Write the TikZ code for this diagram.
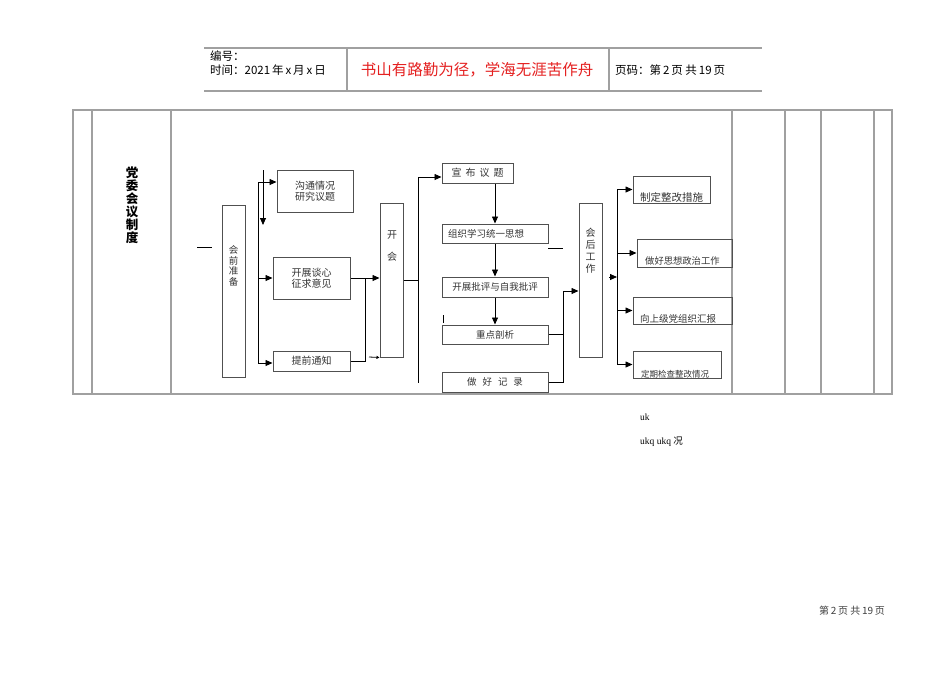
\documentclass[tikz,border=0pt]{standalone}
\usepackage{fontspec}
\setmainfont{Liberation Serif}
\newfontfamily\cjk{Noto Sans CJK SC}
\usetikzlibrary{arrows.meta}
\definecolor{rulegray}{RGB}{160,160,160}
\definecolor{boxgray}{RGB}{80,80,80}
\definecolor{mottored}{RGB}{228,32,32}
\tikzset{
	tabline/.style={draw=rulegray,line width=1.2pt},
	flowtxt/.style={inner sep=0pt,font=\cjk\fontsize{10}{11.5}\selectfont,text=black!80},
	flowbox/.style={flowtxt,draw=boxgray,line width=1pt},
	vtxt/.style={flowtxt,align=center},
	hdrtxt/.style={inner sep=0pt,anchor=west,font=\cjk\fontsize{11.5}{13}\selectfont},
	flowline/.style={line width=0.8pt},
	flowarrow/.style={flowline,-{Triangle[length=7pt,width=6pt]}},
}
\begin{document}
\begin{tikzpicture}[x=1pt,y=-1pt]
	\useasboundingbox (0,0) rectangle (950,672);
	\draw[tabline] (204,48) -- (762,48) (204,91) -- (762,91);
	\foreach \x in {347,609}
		\draw[tabline] (\x,48) -- (\x,91);
	\node[hdrtxt] (serial) at (210,56) {编号：};
	\node[hdrtxt] (date) at (210,70) {时间：2021\,年\,x\,月\,x\,日};
	\node[inner sep=0pt,font=\cjk\fontsize{15.5}{18}\selectfont,text=mottored] (motto) at (477,70) {书山有路勤为径，学海无涯苦作舟};
	\node[hdrtxt] (pageno) at (615,70) {页码：第\,2\,页 共\,19\,页};

	\draw[tabline] (73,110) rectangle (892,394);
	\foreach \x in {92,171,732,785,821,874}
		\draw[tabline] (\x,110) -- (\x,394);
	\node[inner sep=0pt,align=center,font=\cjk\bfseries\fontsize{12.5}{13}\selectfont] (title) at (132,205) {党\\委\\会\\议\\制\\度};
	\draw[flowline] (197,247) -- (212,247);

	\node[flowbox,minimum width=23,minimum height=172] (prep) at (233.5,291) {};
	\node[vtxt,font=\cjk\fontsize{9.5}{10.5}\selectfont] (preptxt) at (233.5,266) {会\\前\\准\\备};
	\node[flowbox,minimum width=76,minimum height=42,align=center] (survey) at (315,191) {沟通情况\\研究议题};
	\node[flowbox,minimum width=77,minimum height=42,align=center] (listen) at (311.5,278) {开展谈心\\征求意见};
	\node[flowbox,minimum width=77,minimum height=20] (notice) at (311.5,361) {提前通知};
	\node[flowbox,minimum width=23,minimum height=154] (meet) at (391.5,280) {};
	\node[vtxt,font=\cjk\fontsize{10}{22}\selectfont] (meettxt) at (392,246) {开\\会};

	\node[flowbox,minimum width=71,minimum height=20] (announce) at (477.5,173) {宣\hspace{4pt}布\hspace{4pt}议\hspace{4pt}题};
	\node[flowbox,minimum width=106,minimum height=19,text width=94,align=left,font=\cjk\fontsize{9.5}{11}\selectfont] (study) at (495,233.5) {组织学习统一思想};
	\node[flowbox,minimum width=106,minimum height=20,font=\cjk\fontsize{9.5}{11}\selectfont] (critique) at (495,287) {开展批评与自我批评};
	\node[flowbox,minimum width=106,minimum height=19,font=\cjk\fontsize{9.5}{11}\selectfont] (focus) at (495,334.5) {重点剖析};
	\node[flowbox,minimum width=106,minimum height=20,font=\cjk\fontsize{9.5}{11}\selectfont] (record) at (495,382) {做\hspace{6pt}好\hspace{6pt}记\hspace{6pt}录};

	\node[flowbox,minimum width=23,minimum height=154] (post) at (590.5,280) {};
	\node[vtxt,font=\cjk\fontsize{10}{12}\selectfont] (posttxt) at (590.5,251) {会\\后\\工\\作};

	\node[flowbox,minimum width=77,minimum height=27] (measure) at (671.5,189.5) {};
	\node[flowtxt,anchor=base west,font=\cjk\fontsize{10.5}{12}\selectfont] (measuretxt) at (640,201) {制定整改措施};
	\node[flowbox,minimum width=95,minimum height=28] (ideol) at (684.5,253) {};
	\node[flowtxt,anchor=base west,font=\cjk\fontsize{9.3}{11}\selectfont] (ideoltxt) at (645,264) {做好思想政治工作};
	\node[flowbox,minimum width=99,minimum height=27] (report) at (682.5,310.5) {};
	\node[flowtxt,anchor=base west,font=\cjk\fontsize{9.5}{11}\selectfont] (reporttxt) at (640,322) {向上级党组织汇报};
	\node[flowbox,minimum width=88,minimum height=27] (check) at (677,364.5) {};
	\node[flowtxt,anchor=base west,font=\cjk\fontsize{8.5}{10}\selectfont] (checktxt) at (641,377) {定期检查整改情况};

	\coordinate (lt) at (258,182);
	\coordinate (lb) at (258,363);
	\coordinate (dn) at (263,170);
	\draw[flowline] (lt) -- (lb);
	\draw[flowarrow] (lt) -- (lt -| survey.west);
	\draw[flowarrow] (lt |- listen.west) -- (listen.west);
	\draw[flowarrow] (lb) -- (lb -| notice.west);
	\draw[flowarrow] (dn) -- ++(0,55);

	\coordinate (mj) at (365,278);
	\coordinate (mn) at (369,357);
	\draw[flowarrow] (listen.east) -- (listen.east -| meet.west);
	\draw[flowline] (notice.east) -| (mj);
	\draw[flowline,-{Triangle[length=3pt,width=3pt]}] (mn) -- (meet.south west);

	\coordinate (ct) at (418,177);
	\coordinate (cb) at (418,383);
	\draw[flowline] (ct) -- (cb);
	\draw[flowline] (meet.east) -- (meet.east -| ct);
	\draw[flowarrow] (ct) -- (ct -| announce.west);
	\draw[flowarrow] (announce.south -| study.north) -- (study.north);
	\draw[flowarrow] (study.south) -- (critique.north);
	\draw[flowarrow] (critique.south) -- (focus.north);
	\draw[flowline] (443,315) -- (443,323);
	\draw[flowline] (548,248) -- (563,248);

	\coordinate (pj) at (563,291);
	\draw[flowline] (focus.east) -- (focus.east -| pj);
	\draw[flowline] (record.east) -| (pj);
	\draw[flowarrow] (pj) -- (pj -| post.west);

	\coordinate (rj) at (617,189);
	\coordinate (rs) at (609,277);
	\draw[flowarrow] (rs) -- (rs -| rj);
	\draw[flowline] (rj |- measure.west) -- (rj |- check.west);
	\foreach \b in {measure,ideol,report,check}
		\draw[flowarrow] (rj |- \b.west) -- (\b.west);

	\node[inner sep=0pt,anchor=base west,font=\fontsize{9.5}{11}\selectfont] (uk) at (640,420.5) {uk};
	\node[inner sep=0pt,anchor=base west,font=\fontsize{9.5}{11}\selectfont] (ukq) at (640,444) {ukq ukq {\cjk 况}};
	\node[inner sep=0pt,font=\cjk\fontsize{10}{12}\selectfont,text=black!75] (footer) at (852,611) {第\,2\,页 共\,19\,页};
\end{tikzpicture}
\end{document}
